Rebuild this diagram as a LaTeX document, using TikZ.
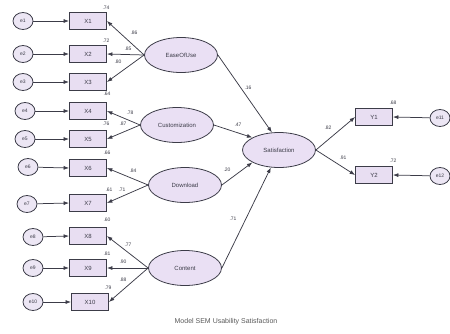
\documentclass[tikz,border=0pt]{standalone}
\usepackage{fontspec}
\setmainfont{Liberation Sans}
\usetikzlibrary{shapes.geometric,arrows.meta}
\definecolor{boxfill}{RGB}{232,222,242}
\definecolor{latfill}{RGB}{234,224,244}
\definecolor{errfill}{RGB}{236,230,244}
\definecolor{ink}{RGB}{60,60,72}
\begin{document}
\begin{tikzpicture}[x=1pt,y=-1pt,
 obs/.style={draw=ink, fill=boxfill, minimum width=37pt, minimum height=17pt, inner sep=0pt, font=\fontsize{6}{7}\selectfont, text=ink, line width=0.8pt},
 lat/.style={ellipse, draw=ink, fill=latfill, minimum width=73pt, minimum height=35pt, inner sep=0pt, font=\fontsize{6}{7}\selectfont, text=ink, line width=0.8pt},
 err/.style={ellipse, draw=ink, fill=errfill, minimum width=20pt, minimum height=17pt, inner sep=0pt, font=\fontsize{5}{6}\selectfont, text=ink, line width=0.8pt},
 arr/.style={-{Latex[length=5.5pt,width=4pt]}, draw=ink, line width=0.75pt},
 lbl/.style={font=\fontsize{5}{6}\selectfont, text=ink, inner sep=0pt}
]
\useasboundingbox (0,0) rectangle (450,333);
% observed
\node[obs] (X1) at (88,21) {X1};
\node[obs] (X2) at (88,54) {X2};
\node[obs] (X3) at (88,82) {X3};
\node[obs] (X4) at (88,111) {X4};
\node[obs] (X5) at (88,139) {X5};
\node[obs] (X6) at (88,168) {X6};
\node[obs] (X7) at (88,203) {X7};
\node[obs] (X8) at (88,236) {X8};
\node[obs] (X9) at (88,268) {X9};
\node[obs] (X10) at (90,302) {X10};
\node[obs] (Y1) at (374,117) {Y1};
\node[obs] (Y2) at (374,175) {Y2};
% errors
\node[err] (e1) at (23,21) {e1};
\node[err] (e2) at (23,54) {e2};
\node[err] (e3) at (23,82) {e3};
\node[err] (e4) at (25,111) {e4};
\node[err] (e5) at (25,139) {e5};
\node[err] (e6) at (28,167) {e6};
\node[err] (e7) at (27,204) {e7};
\node[err] (e8) at (33,237) {e8};
\node[err] (e9) at (33,268) {e9};
\node[err] (e10) at (33,302) {e10};
\node[err] (e11) at (440,118) {e11};
\node[err] (e12) at (440,176) {e12};
% latent
\node[lat] (EOU) at (181,55) {EaseOfUse};
\node[lat] (CUS) at (177,125) {Customization};
\node[lat] (DL) at (185,185) {Download};
\node[lat] (CON) at (185,268) {Content};
\node[lat] (SAT) at (279,150) {Satisfaction};
% error arrows
\foreach \e/\x in {e1/X1,e2/X2,e3/X3,e4/X4,e5/X5,e6/X6,e7/X7,e8/X8,e9/X9,e10/X10}
  \draw[arr] (\e) -- (\x.west);
\draw[arr] (e11) -- (Y1.east);
\draw[arr] (e12) -- (Y2.east);
% loadings
\foreach \x in {X1,X2,X3} \draw[arr] (EOU.west) -- (\x.east);
\foreach \x in {X4,X5} \draw[arr] (CUS.west) -- (\x.east);
\foreach \x in {X6,X7} \draw[arr] (DL.west) -- (\x.east);
\foreach \x in {X8,X9,X10} \draw[arr] (CON.west) -- (\x.east);
% structural
\draw[arr] (EOU.east) -- (SAT.112);
\draw[arr] (CUS.east) -- (SAT.155);
\draw[arr] (DL.east) -- (SAT.205);
\draw[arr] (CON.east) -- (SAT.245);
\draw[arr] (SAT.east) -- (Y1.west);
\draw[arr] (SAT.east) -- (Y2.west);
% r-squared labels
\node[lbl] (r1) at (106,8) {.74};
\node[lbl] (r2) at (106,41) {.72};
\node[lbl] (r3) at (107,94) {.64};
\node[lbl] (r4) at (106,124) {.76};
\node[lbl] (r5) at (107,153) {.66};
\node[lbl] (r6) at (109,190) {.61};
\node[lbl] (r8) at (107,220) {.60};
\node[lbl] (r9) at (107,254) {.81};
\node[lbl] (r10) at (108,288) {.79};
\node[lbl] (ry1) at (393,103) {.68};
\node[lbl] (ry2) at (393,161) {.72};
% loading labels
\node[lbl] (l1) at (134,33) {.86};
\node[lbl] (l2) at (128,49) {.85};
\node[lbl] (l3) at (118,62) {.80};
\node[lbl] (l4) at (130,113) {.78};
\node[lbl] (l5) at (123,124) {.87};
\node[lbl] (l6) at (133,171) {.84};
\node[lbl] (l7) at (122,190) {.71};
\node[lbl] (l8) at (128,245) {.77};
\node[lbl] (l9) at (123,262) {.90};
\node[lbl] (l10) at (123,280) {.88};
% structural labels
\node[lbl] (s1) at (248,88) {.16};
\node[lbl] (s2) at (238,125) {.47};
\node[lbl] (s3) at (227,170) {.20};
\node[lbl] (s4) at (233,219) {.71};
\node[lbl] (s5) at (328,128) {.82};
\node[lbl] (s6) at (343,158) {.91};
% caption
\node[font=\fontsize{7}{8}\selectfont, text=black!65] (cap) at (226,322) {Model SEM Usability Satisfaction};
\end{tikzpicture}
\end{document}
